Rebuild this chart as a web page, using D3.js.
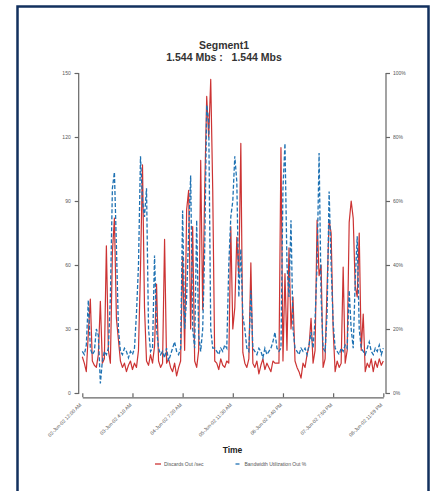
<!DOCTYPE html>
<html><head><meta charset="utf-8">
<script src="https://cdn.jsdelivr.net/npm/d3@7"></script>
<style>
body{margin:0;background:#fff}
svg{display:block}
text{font-family:"Liberation Sans",Arial,Helvetica,sans-serif}
</style>
</head><body>
<svg id="c" width="431" height="491"></svg>
<script>
const titleLines = ["Segment1", "1.544 Mbs :   1.544 Mbs"];
const axisTitle = "Time";
const timeLabels = ["02-Jun-02 12:00 AM","03-Jun-02 4:10 AM","04-Jun-02 7:20 AM","05-Jun-02 11:30 AM","06-Jun-02 3:40 PM","07-Jun-02 7:50 PM","08-Jun-02 11:59 PM"];
const leftTicks = [0,30,60,90,120,150];
const rightTicks = [0,20,40,60,80,100];
const seriesNames = ["Discards Out /sec","Bandwidth Utilization Out %"];

const discards = [17,14,10,28,44,15,13,12,18,43,14,16,69,20,14,66,82,35,25,15,
12,14,10,13,15,11,14,12,20,58,107,40,15,13,18,14,22,51,15,12,
14,72,14,16,12,10,14,8,12,15,64,20,86,95,30,78,15,12,20,109,
39,95,139,120,147,95,15,14,11,16,13,12,15,14,78,30,40,73,55,117,
19,14,12,16,61,14,12,15,9,13,16,11,14,12,10,15,14,14,14,115,
15,56,20,68,30,45,15,12,10,7,14,12,18,22,35,14,20,81,55,60,
12,16,50,81,75,30,10,15,12,14,59,14,20,80,90,82,50,45,75,20,
37,10,14,12,16,10,15,12,16,13,15];

const bandwidth = [13,12,15,29,14,12,13,20,18,3,10,13,12,14,30,64,69,46,20,13,
12,14,13,11,13,12,14,25,40,74,60,55,64,20,13,14,43,20,14,12,
13,11,14,10,12,14,16,13,12,14,57,20,30,50,68,20,14,54,18,13,
20,45,90,85,20,14,14,13,12,14,13,15,14,40,55,60,74,66,30,45,
24,20,14,13,32,14,13,12,14,13,11,14,12,13,14,16,19,14,13,14,
64,78,40,30,54,20,14,13,12,14,13,14,12,15,19,14,23,40,75,30,
14,13,25,63,40,22,14,13,12,14,13,15,14,32,20,14,35,49,20,14,
13,12,14,16,13,12,14,13,15,12,14];

const svg = d3.select("#c");
const axisColor = "#666";
const red = "#cc3333", blue = "#1f72b3";

// frame
svg.append("rect").attr("x",17.5).attr("y",6.5).attr("width",411).attr("height",500)
  .attr("fill","#fff").attr("stroke","#12305e").attr("stroke-width",2.5);

const N = discards.length;
const x = d3.scaleLinear().domain([0, N-1]).range([82.3, 383.3]);
const yL = d3.scaleLinear().domain([0,150]).range([393,73]);
const yR = d3.scaleLinear().domain([0,100]).range([393,73]);

// titles
svg.append("text").attr("x",224).attr("y",49).attr("text-anchor","middle")
  .attr("font-size",10.5).attr("font-weight","bold").attr("fill","#333").text(titleLines[0]);
svg.append("text").attr("x",224).attr("y",61).attr("text-anchor","middle")
  .attr("font-size",10.5).attr("font-weight","bold").attr("fill","#333")
  .style("white-space","pre").text(titleLines[1]);

// left axis
const gL = svg.append("g").attr("transform","translate(78.7,0)")
  .call(d3.axisLeft(yL).tickValues(leftTicks).tickSize(4).tickPadding(4));
// right axis
const gR = svg.append("g").attr("transform","translate(386,0)")
  .call(d3.axisRight(yR).tickValues(rightTicks).tickSize(4).tickPadding(3).tickFormat(d=>d+"%"));
// bottom axis
const gB = svg.append("g").attr("transform","translate(0,397.3)")
  .call(d3.axisBottom(x).tickValues(d3.range(0, N, (N-1)/(timeLabels.length-1)))
    .tickSizeInner(-4).tickSizeOuter(0).tickFormat((d,i)=>timeLabels[i]));

[gL,gR,gB].forEach(g=>{
  g.select(".domain").attr("stroke",axisColor).attr("stroke-width",1.2);
  g.selectAll(".tick line").attr("stroke",axisColor).attr("stroke-width",1.2);
  g.selectAll("text").attr("font-size",5).attr("fill","#555").attr("opacity",0.99)
    .attr("font-family","Liberation Sans, Arial, sans-serif");
});
gL.select(".domain").attr("d","M-4,73.5H0V393.5H-4");
gR.select(".domain").attr("d","M4,73.5H0V393.5H4");
gB.selectAll("text").attr("text-anchor","end").attr("dy",0).attr("y",0)
  .attr("transform","translate(-1,8) rotate(-45)");

// lines
const lineL = d3.line().x((d,i)=>x(i)).y(d=>yL(d));
const lineR = d3.line().x((d,i)=>x(i)).y(d=>yR(d));
svg.append("path").datum(discards).attr("d",lineL).attr("fill","none")
  .attr("stroke",red).attr("stroke-width",1.2).attr("stroke-linejoin","round");
svg.append("path").datum(bandwidth).attr("d",lineR).attr("fill","none")
  .attr("stroke",blue).attr("stroke-width",1.3).attr("stroke-dasharray","4,2");

// axis title
svg.append("text").attr("x",232.5).attr("y",453).attr("text-anchor","middle")
  .attr("font-size",8.5).attr("font-weight","bold").attr("fill","#222").text(axisTitle);

// legend
const leg = [{name:seriesNames[0],c:red,dash:null,x:155},{name:seriesNames[1],c:blue,dash:"4,2",x:235.5}];
leg.forEach(l=>{
  svg.append("line").attr("x1",l.x).attr("x2",l.x+6).attr("y1",464).attr("y2",464)
    .attr("stroke",l.c).attr("stroke-width",1.3).attr("stroke-dasharray",l.dash);
  svg.append("text").attr("x",l.x+9).attr("y",465.8).attr("font-size",5).attr("fill","#555")
    .attr("opacity",0.99).text(l.name);
});
</script>
</body></html>
